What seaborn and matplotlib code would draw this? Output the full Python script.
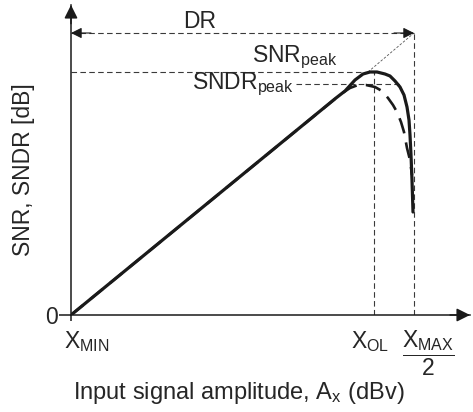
import matplotlib
matplotlib.use('Agg')
import matplotlib.pyplot as plt
import seaborn as sns

# Data (schematic units: x = input level, y = SNR in dB-like units)
snr_x = [0, 265, 274, 284, 292, 299, 306, 314, 319, 324, 329, 333, 336, 338, 339, 340, 341, 342]
snr_y = [0, 217, 224, 235, 241, 243, 243, 241, 239, 234, 228, 220, 208, 195, 180, 160, 135, 103]

sndr_x = [0, 270, 279, 287, 295, 304, 311, 317, 322, 326, 330, 333, 336, 339, 341]
sndr_y = [0, 221, 227, 230, 230, 228, 224, 217, 210, 203, 193, 183, 167, 155, 140]

X_OL = 303
X_MAX_HALF = 343
SNR_PEAK = 243
SNDR_PEAK = 231
DR_LEVEL = 282

x_labels = [r'X$_{\rm MIN}$', r'X$_{\rm OL}$', r'$\dfrac{X_{\rm MAX}}{2}$']

sns.set_theme(style='white')
plt.rcParams['font.family'] = ['Liberation Sans', 'DejaVu Sans']
plt.rcParams['mathtext.fontset'] = 'custom'
plt.rcParams['mathtext.rm'] = 'Liberation Sans'
plt.rcParams['mathtext.it'] = 'Liberation Sans'
plt.rcParams['mathtext.bf'] = 'Liberation Sans:bold'

FS = 16.5
DASH_C = '#3a3a3a'

fig = plt.figure(figsize=(4.73, 4.12), dpi=100)
ax = fig.add_axes([71 / 473, 97 / 412, 399 / 473, 310 / 412])
ax.set_xlim(0, 399)
ax.set_ylim(0, 310)

# helper dashed guides
ax.plot([0, X_OL], [SNR_PEAK, SNR_PEAK], color=DASH_C, lw=0.8, ls=(0, (5, 3)))
ax.plot([225, 329], [SNDR_PEAK, SNDR_PEAK], color=DASH_C, lw=0.8, ls=(0, (5, 3)))
ax.plot([X_OL, X_OL], [0, SNR_PEAK], color=DASH_C, lw=0.8, ls=(0, (5, 3)))
ax.plot([X_MAX_HALF, X_MAX_HALF], [0, DR_LEVEL], color=DASH_C, lw=0.8, ls=(0, (5, 3)))
ax.plot([297, X_MAX_HALF], [SNR_PEAK, DR_LEVEL], color='#555555', lw=0.6, ls=(0, (3, 2)))

# DR arrow
ax.plot([0, X_MAX_HALF], [DR_LEVEL, DR_LEVEL], color=DASH_C, lw=0.8, ls=(0, (5, 3)))
for x0, x1 in [(20, 0), (X_MAX_HALF - 20, X_MAX_HALF)]:
    ax.annotate('', xy=(x1, DR_LEVEL), xytext=(x0, DR_LEVEL),
                arrowprops=dict(arrowstyle='-|>', color='k', lw=0.8,
                                mutation_scale=16, shrinkA=0, shrinkB=0))

# curves
sns.lineplot(x=sndr_x, y=sndr_y, sort=False, estimator=None, color='k',
             lw=1.9, ls=(0, (6, 3.5)), ax=ax)
sns.lineplot(x=snr_x, y=snr_y, sort=False, estimator=None, color='k',
             lw=2.3, ax=ax)

# axes with arrows
sns.despine(ax=ax)
for s in ['left', 'bottom']:
    ax.spines[s].set_linewidth(1.1)
    ax.spines[s].set_color('k')
ax.annotate('', xy=(1.0, 0), xycoords='axes fraction', xytext=(0.95, 0),
            arrowprops=dict(arrowstyle='-|>', color='k', lw=1.1,
                            mutation_scale=20, shrinkA=0, shrinkB=0))
ax.annotate('', xy=(0, 1.0), xycoords='axes fraction', xytext=(0, 0.94),
            arrowprops=dict(arrowstyle='-|>', color='k', lw=1.1,
                            mutation_scale=20, shrinkA=0, shrinkB=0))

ax.set_yticks([0], labels=['0'])
ax.set_xticks([0], labels=[''])
ax.tick_params(axis='y', length=9, width=1.1, color='k', direction='out',
               left=True, labelsize=FS, pad=0.5)
ax.tick_params(axis='x', length=4, width=1.1, color='k', direction='out',
               bottom=True, labelsize=FS, pad=0)

# x tick labels
ax.text(-7, -14, x_labels[0], fontsize=FS, ha='left', va='top')
ax.text(X_OL - 4, -14, x_labels[1], fontsize=FS, ha='center', va='top')
ax.text(X_MAX_HALF + 14, -14, x_labels[2], fontsize=FS, ha='center', va='top')

# annotations
ax.text(129, 293, 'DR', fontsize=FS, ha='center', va='center')
ax.text(181, 253, r'SNR$_{\rm peak}$', fontsize=FS, ha='left', va='baseline')
ax.text(121, 226, r'SNDR$_{\rm peak}$', fontsize=FS, ha='left', va='baseline')

ax.set_xlabel(r'Input signal amplitude, A$_{\rm x}$ (dBv)', fontsize=17)
ax.set_ylabel('SNR, SNDR [dB]', fontsize=FS, va='center')
ax.xaxis.set_label_coords(0.42, -0.21)
ax.yaxis.set_label_coords(-0.12, 0.47)

fig.savefig('out.png', dpi=100)
